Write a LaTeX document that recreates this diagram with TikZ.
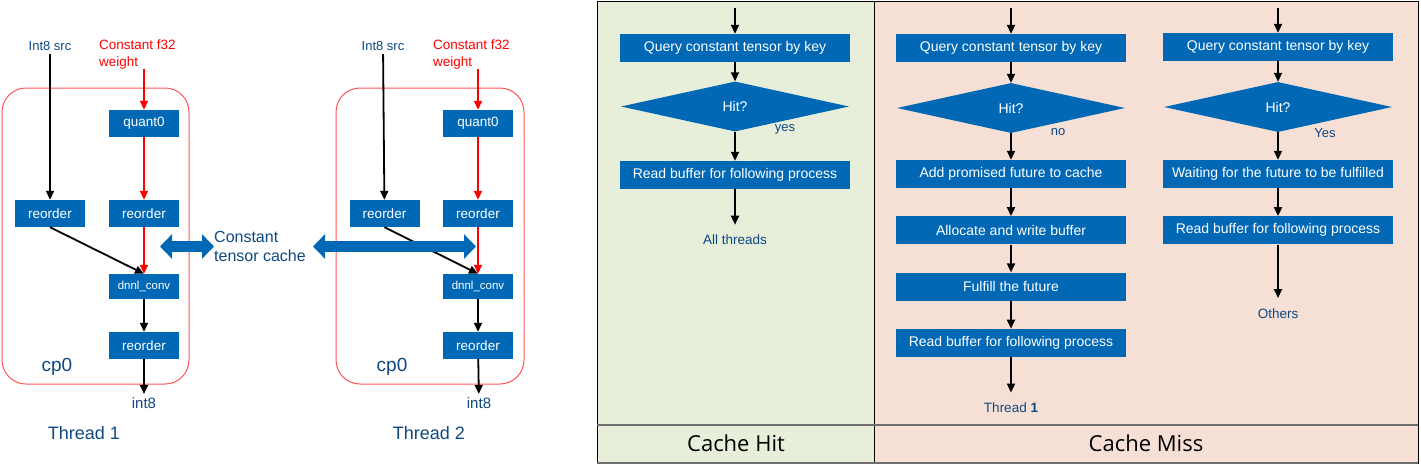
\documentclass[tikz,border=0pt]{standalone}
\usepackage{fontspec}
\setmainfont{Liberation Sans}
\newfontfamily\capfont{Open Sans}
\usetikzlibrary{positioning, arrows.meta, shapes.geometric}

\definecolor{opblue}{RGB}{0,104,181}
\definecolor{txtblue}{RGB}{14,72,130}
\definecolor{hitbg}{RGB}{231,239,218}
\definecolor{missbg}{RGB}{246,224,214}
\definecolor{cpred}{RGB}{255,85,85}
\definecolor{rulegray}{RGB}{110,110,110}

\tikzset{
	op/.style={fill=opblue, text=white, minimum width=70pt, minimum height=27pt, inner sep=0pt, font=\fontsize{13.5pt}{16pt}\selectfont},
	stepbox/.style={fill=opblue, text=white, minimum width=230pt, minimum height=28pt, inner sep=0pt, font=\fontsize{14pt}{16pt}\selectfont},
	hit/.style={diamond, aspect=4.6, fill=opblue, text=white, minimum width=228pt, minimum height=50pt, inner sep=0pt, font=\fontsize{14pt}{16pt}\selectfont},
	lbl/.style={text=txtblue, font=\fontsize{13pt}{16pt}\selectfont},
	wlbl/.style={text=red, align=left, inner sep=0pt, font=\fontsize{13.5pt}{17pt}\selectfont},
	big/.style={text=txtblue, font=\fontsize{18pt}{20pt}\selectfont},
	tag/.style={text=txtblue, font=\fontsize{13pt}{15pt}\selectfont},
	endlbl/.style={text=txtblue, outer sep=7pt, font=\fontsize{13.5pt}{16pt}\selectfont},
	flow/.style={draw, line width=1.8pt, -{Triangle[length=9pt,width=8pt]}},
	wflow/.style={flow, draw=red, fill=red},
	cachearrow/.style={draw=opblue, line width=11pt, {Triangle[length=12pt,width=24pt]}-{Triangle[length=12pt,width=24pt]}},
	cpbox/.style={draw=cpred, line width=1pt, rounded corners=24pt},
	caption/.style={text=black, font=\capfont\fontsize{22pt}{24pt}\selectfont}
}

\begin{document}
\begin{tikzpicture}[x=1pt, y=-1pt, node distance=56.3pt, on grid]
			\useasboundingbox (0,0) rectangle (1421,474);

			% thread 1
			\node[lbl] (src1) at (50,46) {Int8 src};
			\node[wlbl, anchor=west] (w1) at (99,54.5) {Constant f32\\weight};
			\node[op] (q1) at (144,123.5) {quant0};
			\node[op] (ra1) at (50,213.5) {reorder};
			\node[op] (rb1) at (144,213.5) {reorder};
			\node[op, minimum height=25pt, font=\fontsize{11.5pt}{14pt}\selectfont] (cv1) at (144,286.5) {dnnl\_conv};
			\node[op] (rc1) at (144,345.5) {reorder};
			\node[lbl, font=\fontsize{15pt}{17pt}\selectfont] (o1) at (144,403) {int8};
			\node[big, font=\fontsize{19pt}{21pt}\selectfont] (cp1) at (57,367) {cp0};
			\node[big] (t1) at (84,433) {Thread 1};
			\draw[cpbox] (2,88) rectangle (189,384);

			\path (src1) edge[flow] (ra1)
			(ra1.south) edge[flow] (cv1.north)
			(cv1) edge[flow] (rc1)
			(rc1) edge[flow] (o1)
			(w1.south -| q1) edge[wflow] (q1)
			(q1) edge[wflow] (rb1)
			(rb1) edge[wflow] (cv1);

			% thread 2
			\node[lbl] (src2) at (383,46) {Int8 src};
			\node[wlbl, anchor=west] (w2) at (433,54.5) {Constant f32\\weight};
			\node[op] (q2) at (478,123.5) {quant0};
			\node[op] (ra2) at (384.5,213.5) {reorder};
			\node[op] (rb2) at (478,213.5) {reorder};
			\node[op, minimum height=25pt, font=\fontsize{11.5pt}{14pt}\selectfont] (cv2) at (478,286.5) {dnnl\_conv};
			\node[op] (rc2) at (478,345.5) {reorder};
			\node[lbl, font=\fontsize{15pt}{17pt}\selectfont] (o2) at (479,403) {int8};
			\node[big, font=\fontsize{19pt}{21pt}\selectfont] (cp2) at (392,367) {cp0};
			\node[big] (t2) at (429,433) {Thread 2};
			\draw[cpbox] (336,88) rectangle (524,384);

			\path (src2) edge[flow] (ra2)
			(ra2.south) edge[flow] (cv2.north)
			(cv2) edge[flow] (rc2)
			(rc2) edge[flow] (o2)
			(w2.south -| q2) edge[wflow] (q2)
			(q2) edge[wflow] (rb2)
			(rb2) edge[wflow] (cv2);

			% shared cache
			\node[text=txtblue, anchor=west, align=left, inner sep=0pt, font=\fontsize{16pt}{19pt}\selectfont] (cache) at (214,246.5) {Constant\\tensor cache};
			\coordinate (cin1) at (160,246.5);
			\coordinate (cin2) at (476,246.5);
			\draw[cachearrow] (cin1) -- (cache.west);
			\draw[cachearrow] ([xshift=7pt]cache.east) -- (cin2);

			% hit / miss panel
			\fill[hitbg] (597,1) rectangle (874,463);
			\fill[missbg] (874,1) rectangle (1418,463);
			\draw[line width=1pt] (597,1) rectangle (1418,463);
			\draw[line width=1pt] (874,1) -- (874,463);
			\draw[rulegray, line width=1.5pt] (597,425) -- (1418,425);
			\draw[rulegray, line width=1.5pt] (597,463) -- (1418,463);
			\node[caption] (hitcap) at (736,443) {Cache Hit};
			\node[caption] (misscap) at (1146,443) {Cache Miss};

			% cache hit
			\coordinate (ina) at (735,8);
			\node[stepbox] (qa) at (735,48) {Query constant tensor by key};
			\node[hit, below=58.5pt of qa] (ha) {Hit?};
			\node[stepbox, below=68.5pt of ha] (ra) {Read buffer for following process};
			\node[endlbl, below=65pt of ra] (alla) {All threads};
			\node[tag] (ya) at (785,129) {yes};
			\path (ina) edge[flow] (qa)
			(qa) edge[flow] (ha)
			(ha) edge[flow] (ra)
			(ra) edge[flow] (alla);

			% cache miss, first thread
			\coordinate (inb) at (1011,8);
			\node[stepbox] (qb) at (1011,48) {Query constant tensor by key};
			\node[hit, below=60pt of qb] (hb) {Hit?};
			\node[stepbox, below=66pt of hb] (b1) {Add promised future to cache};
			\node[stepbox, below=of b1] (b2) {Allocate and write buffer};
			\node[stepbox, below=of b2] (b3) {Fulfill the future};
			\node[stepbox, below=of b3] (b4) {Read buffer for following process};
			\node[endlbl, below=65pt of b4] (oneb) {Thread \textbf{1}};
			\node[tag] (nb) at (1058,132) {no};
			\path (inb) edge[flow] (qb)
			(qb) edge[flow] (hb)
			(hb) edge[flow] (b1)
			(b1) edge[flow] (b2)
			(b2) edge[flow] (b3)
			(b3) edge[flow] (b4)
			(b4) edge[flow] (oneb);

			% cache miss, others
			\coordinate (inc) at (1278,8);
			\node[stepbox] (qc) at (1278,47) {Query constant tensor by key};
			\node[hit, below=60pt of qc] (hc) {Hit?};
			\node[stepbox, below=67pt of hc] (c1) {Waiting for the future to be fulfilled};
			\node[stepbox, below=of c1] (c2) {Read buffer for following process};
			\node[endlbl, below=83pt of c2] (othc) {Others};
			\node[tag] (yc) at (1325,133) {Yes};
			\path (inc) edge[flow] (qc)
			(qc) edge[flow] (hc)
			(hc) edge[flow] (c1)
			(c1) edge[flow] (c2)
			(c2) edge[flow] (othc);

		\end{tikzpicture}
\end{document}
